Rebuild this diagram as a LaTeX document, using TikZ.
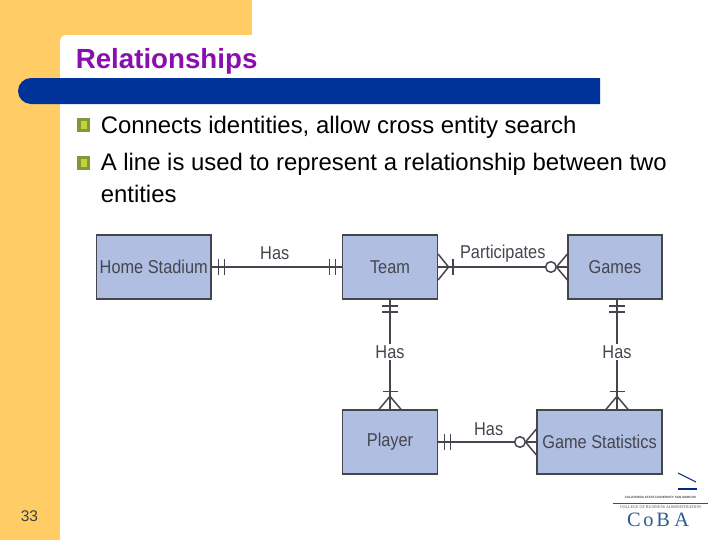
\documentclass[tikz,border=0pt]{standalone}
\usepackage{fontspec}
\setmainfont{Liberation Sans}
\newfontfamily\logofont{Liberation Serif}
\newfontfamily\diagfont[FakeStretch=0.88]{Liberation Sans}
\usetikzlibrary{calc,positioning}
\definecolor{slideorange}{HTML}{FFCC66}
\definecolor{slideblue}{HTML}{003399}
\definecolor{titlepurple}{HTML}{8A0FAE}
\definecolor{boxblue}{HTML}{AFBEE1}
\definecolor{boxline}{HTML}{45454F}
\definecolor{logoblue}{HTML}{2F5C8F}
\definecolor{bulletout}{HTML}{7F9A35}
\definecolor{bulletin}{HTML}{C8D03C}
\tikzset{
  entity/.style={rectangle,draw=boxline,line width=1.1pt,fill=boxblue,text=boxline,inner sep=0pt,font=\diagfont\fontsize{13.2}{15}\selectfont},
  rel/.style={draw=boxline,line width=1.05pt},
  rellabel/.style={text=boxline,inner sep=1pt,font=\diagfont\fontsize{13.2}{15}\selectfont},
  bodytext/.style={anchor=base west,inner sep=0pt,font=\fontsize{17}{20}\selectfont},
  pics/twobar/.style={code={
    \draw[rel] (6.5,-8) -- (6.5,8);
    \draw[rel] (12.5,-8) -- (12.5,8);
  }},
  pics/crowbar/.style={code={
    \draw[rel] (0,-13) -- (10.5,0) -- (0,13);
    \draw[rel] (15,-8) -- (15,8);
  }},
  pics/crowtall/.style={code={
    \draw[rel] (0,-11) -- (13,0) -- (0,11);
    \draw[rel] (18,-7.5) -- (18,7.5);
  }},
  pics/crowcircle/.style={code={
    \draw[rel] (0,-13) -- (11,0) -- (0,13);
    \draw[rel,fill=white] (16.5,0) circle (5.3);
  }},
  pics/bulletmark/.style={code={
    \fill[bulletout] (-6.5,-7) rectangle (6.5,7);
    \fill[bulletin] (-3,-4) rectangle (3,4);
  }}
}
\begin{document}
\begin{tikzpicture}[x=0.025cm,y=-0.025cm]
  \useasboundingbox (0,0) rectangle (720,540);
  % background
  \fill[slideorange] (0,0) rectangle (252,540);
  \fill[white] (60,540) [rounded corners=4] -- (60,35) [sharp corners] -- (252,35) -- (252,0) -- (720,0) -- (720,540) -- cycle;
  \fill[slideblue] (600,78) -- (600,104) -- (31,104) arc (90:270:13) -- cycle;
  \node[anchor=base west,inner sep=0pt,text=titlepurple,font=\bfseries\fontsize{19.7}{24}\selectfont] (title) at (75.5,68) {Relationships};
  % bullets
  \pic at (83.5,125) {bulletmark};
  \pic at (83.5,163) {bulletmark};
  \node[bodytext] (lineone) at (100.5,133) {Connects identities, allow cross entity search};
  \node[bodytext] (linetwo) at (100.5,170) {A line is used to represent a relationship between two};
  \node[bodytext] (linethree) at (100.5,202) {entities};
  \node[anchor=base,inner sep=0pt,text=black!75,font=\fontsize{11}{12}\selectfont] (pagenum) at (29.5,521) {33};
  % entities
  \node[entity,minimum width=81.5pt,minimum height=45.4pt] (home) at (153.75,267) {Home Stadium};
  \node[entity,minimum width=67.3pt,minimum height=45.4pt] (team) at (390,267) {Team};
  \node[entity,minimum width=66.6pt,minimum height=45.4pt] (games) at (615,267) {Games};
  \node[entity,minimum width=67.3pt,minimum height=45.4pt] (player) at (390,442) {Player};
  \node[entity,minimum width=88.6pt,minimum height=45.4pt] (stats) at (599.5,442) {Game Statistics};
  % relationships
  \coordinate (gamesdown) at ($(games.south)+(2,0)$);
  \draw[rel] (home) -- node[rellabel,above=4pt,xshift=-1.5] (hasa) {Has} (team);
  \draw[rel] (team.east) -- node[rellabel,above=1.5pt] (hasb) {Participates} (games.west);
  \draw[rel] (team) -- node[rellabel,fill=white,pos=0.48] (hasc) {Has} (player);
  \draw[rel] (gamesdown) -- node[rellabel,fill=white,pos=0.48] (hasd) {Has} (gamesdown |- stats.north);
  \draw[rel] (player) -- node[rellabel,above=3pt,xshift=1] (hase) {Has} (stats);
  % line ends
  \pic at (home.east) {twobar};
  \pic[rotate=180] at (team.west) {twobar};
  \pic[rotate=-90] at (team.south) {twobar};
  \pic[rotate=-90] at (gamesdown) {twobar};
  \pic at (player.east) {twobar};
  \pic at (team.east) {crowbar};
  \pic[rotate=180] at (games.west) {crowcircle};
  \pic[rotate=90] at (player.north) {crowtall};
  \pic[rotate=90] at (gamesdown |- stats.north) {crowtall};
  \pic[rotate=180] at (stats.west) {crowcircle};
  % logo
  \coordinate (swooshl) at (678,473);
  \coordinate (swooshr) at (696,482);
  \draw[slideblue!80!black,line width=0.7pt] (swooshl) -- (swooshr);
  \draw[slideblue!80!black,line width=1pt] (678,489) -- (697,489);
  \node[inner sep=0pt,text=black!70,font=\bfseries\fontsize{2.2}{3}\selectfont] (logotop) at (660.5,497) {CALIFORNIA STATE UNIVERSITY SAN MARCOS};
  \coordinate (logol) at (613,503);
  \coordinate (logor) at (708,503);
  \draw[black!70,line width=0.4pt] (logol) -- (logor);
  \node[inner sep=0pt,text=black!70,font=\logofont\fontsize{2.9}{4}\selectfont] (logomid) at (660.5,507.5) {COLLEGE OF BUSINESS ADMINISTRATION};
  \node[inner sep=0pt,text=logoblue,font=\logofont\fontsize{14.5}{16}\selectfont] (logocoba) at (658,520) {C\kern2pt o\kern2pt B\kern3pt A};
\end{tikzpicture}
\end{document}
